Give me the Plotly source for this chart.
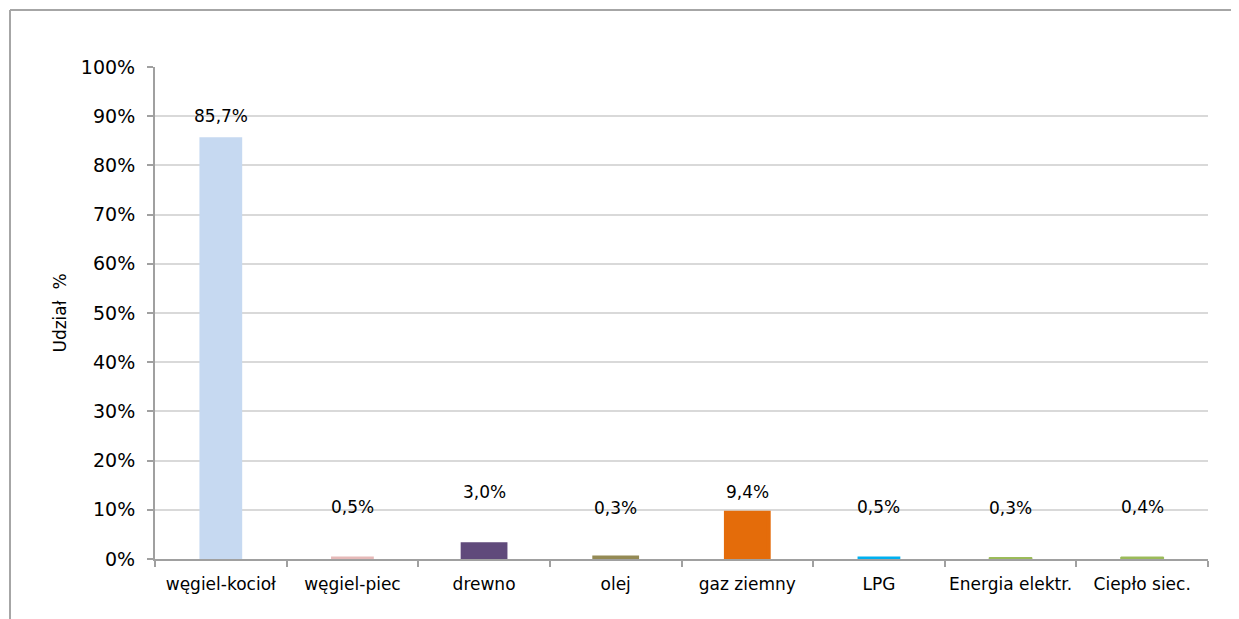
import plotly.graph_objects as go

categories = ["węgiel-kocioł", "węgiel-piec", "drewno", "olej", "gaz ziemny",
              "LPG", "Energia elektr.", "Ciepło siec."]
values = [85.7, 0.5, 3.0, 0.3, 9.4, 0.5, 0.3, 0.4]
y_ticks = [0, 10, 20, 30, 40, 50, 60, 70, 80, 90, 100]
y_tick_labels = [f"{t}%" for t in y_ticks]

colors = ["#C6D9F1", "#E6B9B8", "#604A7B", "#948A54", "#E46C0A",
          "#00B0F0", "#9BBB59", "#9BBB59"]
line_widths = [0, 0, 4, 4, 4, 0, 1, 1]
label_shift = [21, 50, 52, 50, 21, 50, 50, 50]

FONT = "DejaVu Sans"

fig = go.Figure()
fig.add_trace(go.Bar(
    x=categories, y=values,
    marker=dict(color=colors, line=dict(color=colors, width=line_widths)),
    width=0.325,
    hoverinfo="skip",
))

for c, v, s in zip(categories, values, label_shift):
    fig.add_annotation(
        x=c, y=v, xref="x", yref="y",
        text=f"{v:.1f}".replace(".", ",") + "%",
        showarrow=False, yshift=s, yanchor="middle",
        font=dict(family=FONT, size=17, color="#000000"),
    )

# outer frame lines (left and top)
fig.add_shape(type="line", xref="paper", yref="paper",
              x0=(10 - 155) / 1053, x1=(10 - 155) / 1053,
              y0=(559 - 10) / 492, y1=(559 - 625) / 492,
              line=dict(color="#A6A6A6", width=2))
fig.add_shape(type="line", xref="paper", yref="paper",
              x0=(10 - 155) / 1053, x1=(1245 - 155) / 1053,
              y0=(559 - 10) / 492, y1=(559 - 10) / 492,
              line=dict(color="#A6A6A6", width=2))

fig.update_layout(
    width=1231, height=611,
    margin=dict(l=147, r=31, t=59, b=60, pad=0),
    paper_bgcolor="white", plot_bgcolor="white",
    showlegend=False,
    font=dict(family=FONT, size=17, color="#000000"),
)
fig.update_xaxes(
    showline=True, linecolor="#A0A0A0", linewidth=2,
    ticks="outside", ticklen=6, tickcolor="#A0A0A0", tickwidth=2,
    tickson="boundaries", showgrid=False,
    tickangle=0, automargin=False,
    ticklabelstandoff=9,
    tickfont=dict(family=FONT, size=17, color="#000000"),
)
fig.update_yaxes(
    range=[0, 100], tickvals=y_ticks, ticktext=y_tick_labels,
    showline=True, linecolor="#A0A0A0", linewidth=2,
    ticks="outside", ticklen=6, tickcolor="#A0A0A0", tickwidth=2,
    showgrid=True, gridcolor="#D9D9D9", gridwidth=1.5,
    zeroline=False, automargin=False,
    ticklabelstandoff=8,
    tickfont=dict(family=FONT, size=19, color="#000000"),
    title=dict(text="Udział  %", font=dict(family=FONT, size=17, color="#000000"),
               standoff=10),
)

fig.write_html("out.html")
